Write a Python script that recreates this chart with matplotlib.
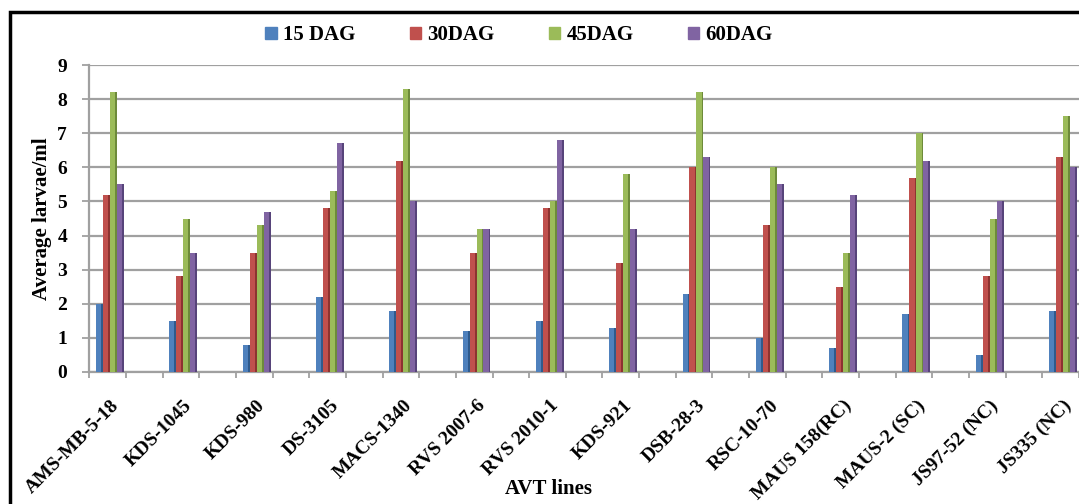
import numpy as np
from matplotlib import pyplot as plt
from matplotlib.patches import Rectangle, Patch

lines = ["AMS-MB-5-18", "KDS-1045", "KDS-980", "DS-3105", "MACS-1340", "RVS 2007-6",
         "RVS 2010-1", "KDS-921", "DSB-28-3", "RSC-10-70", "MAUS 158(RC)", "MAUS-2 (SC)",
         "JS97-52 (NC)", "JS335 (NC)"]
dag15 = [2.0, 1.5, 0.8, 2.2, 1.8, 1.2, 1.5, 1.3, 2.3, 1.0, 0.7, 1.7, 0.5, 1.8]
dag30 = [5.2, 2.8, 3.5, 4.8, 6.2, 3.5, 4.8, 3.2, 6.0, 4.3, 2.5, 5.7, 2.8, 6.3]
dag45 = [8.2, 4.5, 4.3, 5.3, 8.3, 4.2, 5.0, 5.8, 8.2, 6.0, 3.5, 7.0, 4.5, 7.5]
dag60 = [5.5, 3.5, 4.7, 6.7, 5.0, 4.2, 6.8, 4.2, 6.3, 5.5, 5.2, 6.2, 5.0, 6.0]
series_names = ["15 DAG", "30DAG", "45DAG", "60DAG"]
colors = ["#4F81BD", "#C0504D", "#9BBB59", "#8064A2"]
sides = ["#2f5a8c", "#8c3330", "#6d8a3a", "#57447a"]

plt.rcParams['font.family'] = ['Liberation Serif', 'DejaVu Serif']
plt.rcParams['font.weight'] = 'bold'

fig = plt.figure(figsize=(10.79, 5.04), dpi=100)
ax = fig.add_axes([89.3/1079, 132/504, 1 - 89.3/1079, 307/504])

x = np.arange(len(lines))
data = [dag15, dag30, dag45, dag60]
bw = 0.095
for j, vals in enumerate(data):
    left = x - 0.19 + j*bw
    ax.bar(left, vals, width=0.07, align='edge', color=colors[j], zorder=3)
    ax.bar(left + 0.07, vals, width=0.025, align='edge', color=sides[j], zorder=3)

ax.set_xlim(-0.282, 13.2)
ax.set_ylim(0, 9)
ax.set_yticks(range(10))
ax.grid(axis='y', color='#a0a0a0', lw=1.6, zorder=0)
for s in ['top', 'right']:
    ax.spines[s].set_visible(False)
for s in ['left', 'bottom']:
    ax.spines[s].set_color('#a0a0a0')
    ax.spines[s].set_linewidth(1.6)

ax.set_xticks(x)
ax.set_xticklabels(lines, rotation=45, ha='right', va='top', rotation_mode='anchor',
                   fontsize=14, fontweight='bold')
ax.tick_params(axis='x', length=0, pad=18)
ax.set_xticks(np.concatenate([x - 0.282, x + 0.218]), minor=True)
ax.tick_params(axis='x', which='minor', length=4, color='#a0a0a0', width=1.3)
ax.tick_params(axis='y', length=5, color='#a0a0a0', width=1.3, labelsize=14, pad=11)
for t in ax.get_yticklabels():
    t.set_fontweight('bold')

ax.set_ylabel("Average larvae/ml", fontsize=15, fontweight='bold', labelpad=4)
fig.text(0.508, 0.03, "AVT lines", ha='center', va='center', fontsize=15, fontweight='bold')

handles = [Patch(color=c) for c in colors]
fig.legend(handles, series_names, loc='center', bbox_to_anchor=(0.481, 0.93), ncol=4,
           frameon=False, handlelength=0.55, handleheight=0.55,
           handletextpad=0.3, columnspacing=2.6, prop={'weight': 'bold', 'size': 15})

fig.patches.append(Rectangle((10/1079, -0.02), 1.1, 1 - 12/504 + 0.02, transform=fig.transFigure,
                             fill=False, edgecolor='black', lw=2.5))

fig.savefig("out.png", dpi=100)
